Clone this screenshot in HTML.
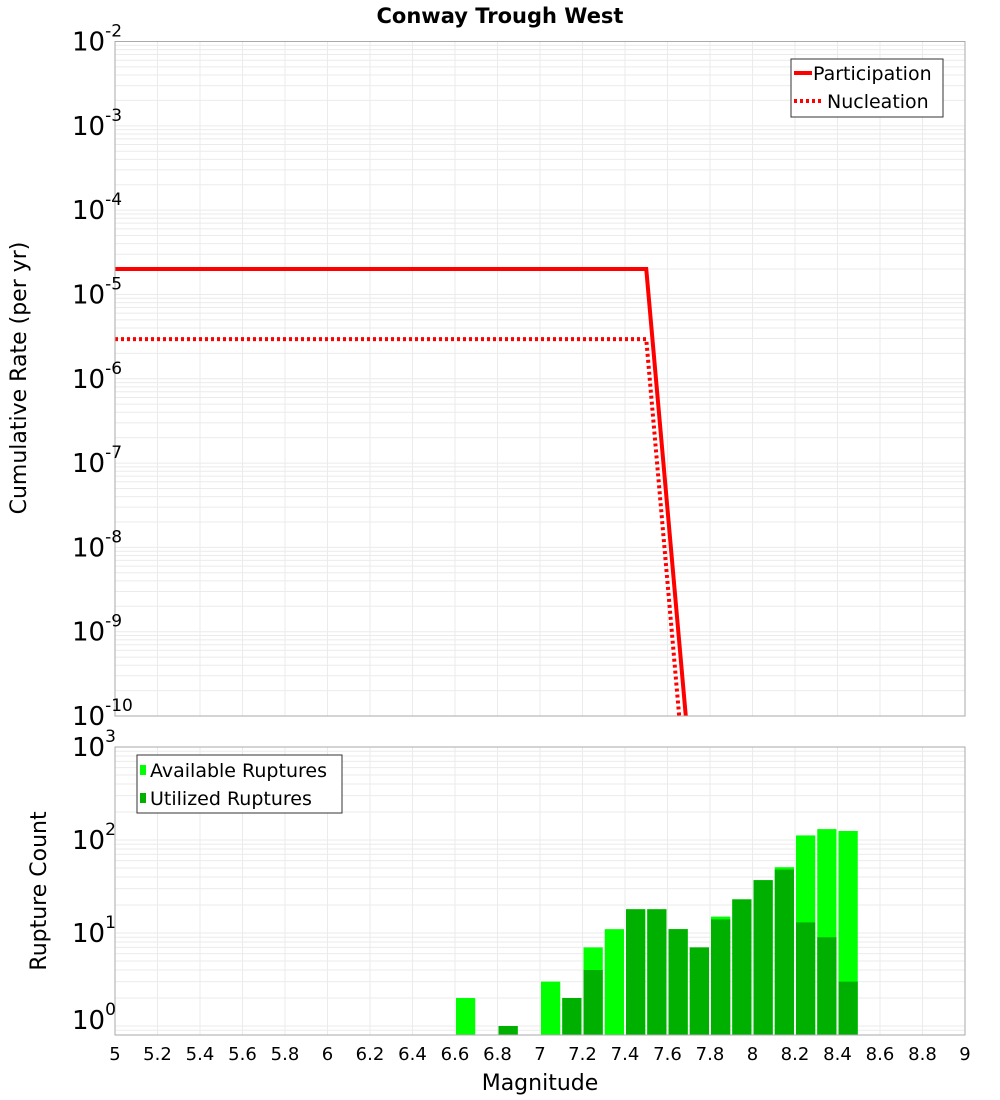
<!DOCTYPE html>
<html><head><meta charset="utf-8"><style>
body{margin:0;background:#fff;}
svg{display:block;font-family:"DejaVu Sans","Liberation Sans",sans-serif;}
</style></head><body>
<svg id="chart" width="1000" height="1100" viewBox="0 0 1000 1100">
<text x="500" y="23" text-anchor="middle" font-size="21" font-weight="bold">Conway Trough West</text>
<text transform="translate(26,378) rotate(-90)" text-anchor="middle" font-size="22">Cumulative Rate (per yr)</text>
<text transform="translate(46,891) rotate(-90)" text-anchor="middle" font-size="22">Rupture Count</text>
<text x="540" y="1090" text-anchor="middle" font-size="22">Magnitude</text>
<g id="grid"></g><g id="marks"></g><g id="axes"></g>
</svg>
<script>
const partMags=[5.0,7.5,7.7];
const partRates=[2.0e-5,2.0e-5,4e-11];
const nuclMags=[5.0,7.5,7.7];
const nuclRates=[2.95e-6,2.95e-6,5e-12];
const binMags=[6.6,6.7,6.8,6.9,7.0,7.1,7.2,7.3,7.4,7.5,7.6,7.7,7.8,7.9,8.0,8.1,8.2,8.3,8.4];
const availCounts=[2,0,1,0,3,2,7,11,18,18,11,7,15,23,37,51,112,131,125];
const utilCounts=[0,0,1,0,0,2,4,0,18,18,11,7,14,23,37,48,13,9,3];
const xTicks=[5,5.2,5.4,5.6,5.8,6,6.2,6.4,6.6,6.8,7,7.2,7.4,7.6,7.8,8,8.2,8.4,8.6,8.8,9];
const rateDecades=[-2,-3,-4,-5,-6,-7,-8,-9,-10];
const countDecades=[3,2,1,0];

const NS="http://www.w3.org/2000/svg";
const X0=115,X1=965;
const xs=m=>X0+(m-5)/4*(X1-X0);
const T0=41.5,T1=716;
const ysTop=v=>T0+(-2-Math.log10(v))/8*(T1-T0);
const B0=747,B1=1035,BD=93;
const ysBot=v=>1026-Math.log10(v)*BD;
function mk(tag,attrs,parent){const e=document.createElementNS(NS,tag);for(const k in attrs)e.setAttribute(k,attrs[k]);parent.appendChild(e);return e;}
const grid=document.getElementById('grid'),marks=document.getElementById('marks'),axes=document.getElementById('axes');

// grid lines
function hgrid(y){const l=mk('line',{x1:X0,x2:X1,y1:y,y2:y,stroke:'#ebebeb','stroke-width':1},grid);

}
for(let d=-10;d<-2;d++)for(let k=1;k<10;k++){hgrid(ysTop(k*Math.pow(10,d)));}
for(let d=-1;d<3;d++)for(let k=1;k<10;k++){const y=ysBot(k*Math.pow(10,d));if(y>B0&&y<B1)hgrid(y);}
xTicks.forEach(t=>{[[T0,T1],[B0,B1]].forEach(r=>{const l=mk('line',{x1:xs(t),x2:xs(t),y1:r[0],y2:r[1],stroke:'#ebebeb','stroke-width':1},grid);

});});

// clip paths
const defs=mk('defs',{},marks);
const cp=mk('clipPath',{id:'topclip'},defs);mk('rect',{x:X0,y:T0,width:X1-X0,height:T1-T0},cp);

// lines
function pts(ms,vs){return ms.map((m,i)=>xs(m)+','+ysTop(vs[i])).join(' ');}
const pl=mk('polyline',{points:pts(partMags,partRates),fill:'none',stroke:'#ff0000','stroke-width':4,'clip-path':'url(#topclip)'},marks);


const nl=mk('polyline',{points:pts(nuclMags,nuclRates),fill:'none',stroke:'#ff0000','stroke-width':4,'stroke-dasharray':'3,3','clip-path':'url(#topclip)'},marks);



// bars
binMags.forEach((m,i)=>{
  const x=xs(m)+1,w=xs(m+0.1)-xs(m)-2;
  if(availCounts[i]>0){const y=ysBot(availCounts[i]);const r=mk('rect',{x:x,y:y,width:w,height:B1-y,fill:'#00ff00'},marks);
  
  }
  if(utilCounts[i]>0){const y=ysBot(utilCounts[i]);const r=mk('rect',{x:x,y:y,width:w,height:B1-y,fill:'#00b000'},marks);
  
  }
});

// axes frames
[[T0,T1],[B0,B1]].forEach(r=>{const f=mk('rect',{x:X0,y:r[0],width:X1-X0,height:r[1]-r[0],fill:'none',stroke:'#aaaaaa','stroke-width':1},axes);

});

// y tick labels
function ylab(y,exp){const t=mk('text',{x:72,y:y+9,'font-size':26},axes);


t.textContent='10';const s=mk('tspan',{dy:-14,'font-size':17},t);s.textContent=String(exp);}
rateDecades.forEach(d=>ylab(ysTop(Math.pow(10,d)),d));
countDecades.forEach(d=>{let y=ysBot(Math.pow(10,d));if(d===0)y=1020;ylab(y,d);});

// x tick labels
xTicks.forEach(t=>{const e=mk('text',{x:xs(t),y:1060,'text-anchor':'middle','font-size':18},axes);


e.textContent=String(t);});

// legends
const lg1=mk('g',{},axes);


mk('rect',{x:791,y:59,width:152,height:58,fill:'#fff',stroke:'#333','stroke-width':1},lg1);
mk('line',{x1:794,x2:812,y1:73,y2:73,stroke:'#f00','stroke-width':4},lg1);
let t1=mk('text',{x:813,y:80,'font-size':19},lg1);t1.textContent='Participation';
mk('line',{x1:794,x2:822,y1:101,y2:101,stroke:'#f00','stroke-width':4,'stroke-dasharray':'3,3'},lg1);
let t2=mk('text',{x:827,y:108,'font-size':19},lg1);t2.textContent='Nucleation';
const lg2=mk('g',{},axes);


mk('rect',{x:137,y:755,width:205,height:58,fill:'#fff',stroke:'#333','stroke-width':1},lg2);
mk('rect',{x:140,y:765,width:6,height:10,fill:'#00ff00'},lg2);
let t3=mk('text',{x:150,y:777,'font-size':19},lg2);t3.textContent='Available Ruptures';
mk('rect',{x:140,y:793,width:6,height:10,fill:'#00b000'},lg2);
let t4=mk('text',{x:150,y:805,'font-size':19},lg2);t4.textContent='Utilized Ruptures';
</script>
</body></html>
